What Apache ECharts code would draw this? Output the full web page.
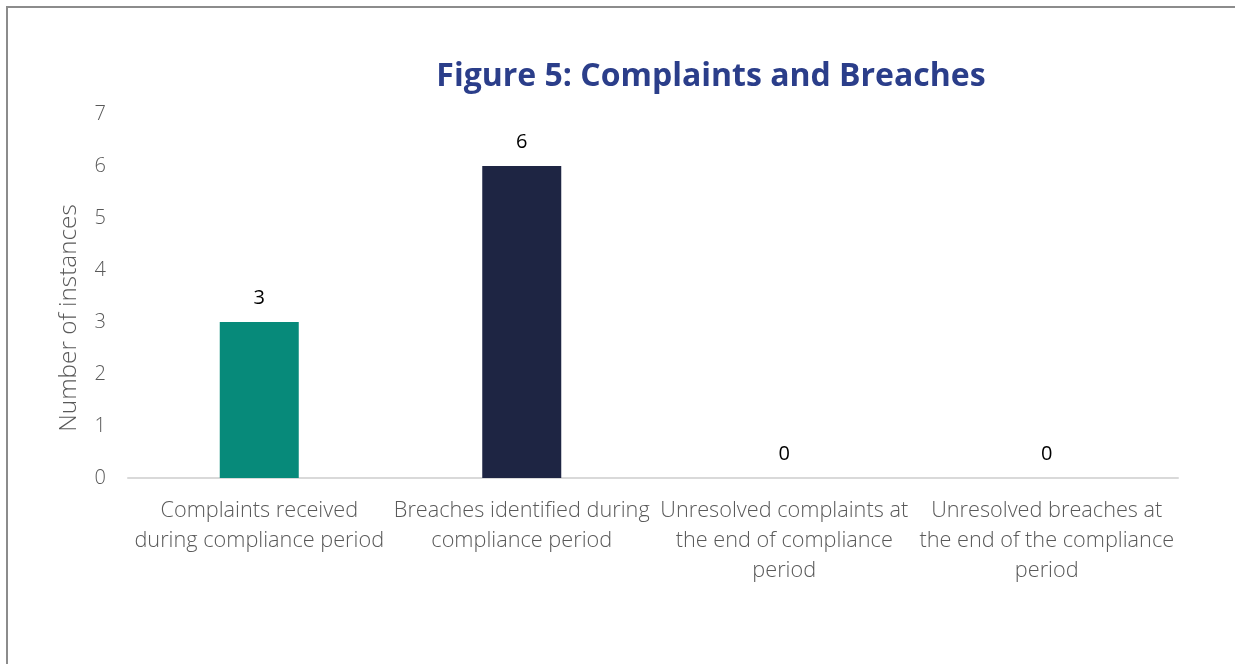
<!DOCTYPE html>
<html lang="en">
<head>
    <meta charset="UTF-8">
    <title>Figure 5</title>
    <script type="text/javascript" src="https://cdn.jsdelivr.net/npm/echarts@6/dist/echarts.min.js"></script>
    <style>
        html, body { margin: 0; padding: 0; background: #fff; overflow: hidden; }
        #charts { position: absolute; left: 0; top: 0; width: 1235px; height: 664px; }
    </style>
</head>
<body>
<div id="charts"></div>
<script>
    // chart data
    var categories = [
        "Complaints received\nduring compliance period",
        "Breaches identified during\ncompliance period",
        "Unresolved complaints at\nthe end of compliance\nperiod",
        "Unresolved breaches at\nthe end of the compliance\nperiod"
    ]
    var values = [3, 6, 0, 0]
    var barColors = ["#078a7a", "#1e2543", "#078a7a", "#1e2543"]
    var yTicks = [0, 1, 2, 3, 4, 5, 6, 7]

    var font = "'Open Sans', sans-serif"
    var chart = echarts.init(document.getElementById("charts"), null, {renderer: 'canvas'})
    chart.setOption({
        animation: false,
        // outer frame (only left and top edges show in the picture)
        graphic: [
            {type: 'polyline', silent: true, shape: {points: [[7, 664], [7, 7], [1235, 7]]},
             style: {stroke: "#8c8c8c", lineWidth: 2, fill: null}}
        ],
        title: {
            text: "Figure 5: Complaints and Breaches",
            left: 706, top: 56, textAlign: 'center',
            textStyle: {color: "#2b3e8a", fontSize: 32, fontWeight: 'bold', fontFamily: font}
        },
        grid: {left: 128, right: 57, top: 114, bottom: 186, containLabel: false},
        xAxis: {
            type: 'category',
            data: categories,
            axisLine: {lineStyle: {color: "#d9d9d9", width: 2}},
            axisTick: {show: false},
            axisLabel: {color: "#595959", fontSize: 21.7, fontWeight: 300, lineHeight: 30, margin: 18, fontFamily: font, interval: 0}
        },
        yAxis: {
            type: 'value',
            min: yTicks[0], max: yTicks[yTicks.length - 1], interval: 1,
            name: "Number of instances",
            nameLocation: 'middle', nameGap: 47, nameRotate: 90,
            nameTextStyle: {color: "#595959", fontSize: 24.3, fontWeight: 300, fontFamily: font, padding: [0, 44, 0, 0]},
            splitLine: {show: false},
            axisLine: {show: false},
            axisTick: {show: false},
            axisLabel: {color: "#595959", fontSize: 20, fontWeight: 300, margin: 22, fontFamily: font}
        },
        series: [{
            type: 'bar',
            barWidth: 79,
            data: values.map(function (v, i) {
                return {value: v, itemStyle: {color: barColors[i]}}
            }),
            label: {show: true, position: 'top', distance: 14, color: "#000", fontSize: 20, fontFamily: font}
        }]
    })
</script>
</body>
</html>
